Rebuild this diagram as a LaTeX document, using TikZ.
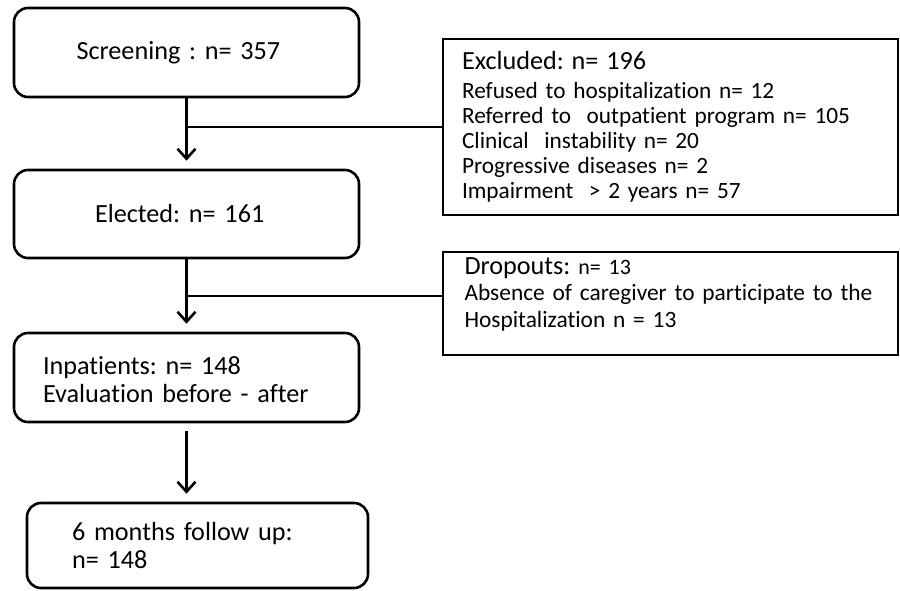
\documentclass[tikz,border=0pt]{standalone}
\usepackage{fontspec}
\setmainfont{Carlito}[Ligatures=NoCommon]
\usepackage{tikz}
\usetikzlibrary{positioning, arrows.meta}

\newcommand{\bigsize}{\fontsize{26.2}{28}\selectfont}
\newcommand{\smallsize}{\fontsize{23.3}{25}\selectfont}
\frenchspacing

\tikzset{
    stage/.style={draw, line width=2.6pt, rounded corners=14pt, align=left, font=\bigsize},
    reason/.style={draw, line width=2.6pt, align=left, font=\smallsize},
    flow/.style={line width=2.6pt, -{Straight Barb[length=10pt,width=18pt]}, shorten >=8pt},
    link/.style={line width=2.6pt},
}

\begin{document}
\begin{tikzpicture}[x=1pt, y=-1pt]
        \useasboundingbox (0,0) rectangle (900,590);

        % main flow
        \node[stage, text width=220pt, inner xsep=62.5pt, minimum height=89pt] (screen) at (186.5,52.5) {Screening : n= 357};
        \node[stage, text width=183pt, inner xsep=81pt, minimum height=88pt] (elect) at (186.5,214) {Elected: n= 161};
        \node[stage, text width=287pt, inner xsep=29pt, minimum height=89pt, text depth=24pt] (inpat) at (186.5,377.5) {
            Inpatients: n= 148\\
            Evaluation before - after
        };
        \node[stage, text width=251pt, inner xsep=45pt, minimum height=85pt] (follow) at (197.5,545.5) {
            6 months follow up:\\
            n= 148
        };

        % side boxes
        \node[reason, text width=417pt, inner xsep=19pt, minimum height=176pt] (excl) at (670.5,127) {
            {\bigsize Excluded: n= 196}\\[4pt]
            Refused to hospitalization n= 12\\
            Referred to\ \ outpatient program n= 105\\
            Clinical\ \ instability n= 20\\
            Progressive diseases n= 2\\
            Impairment\ \ > 2 years n= 57
        };
        \node[reason, font=\fontsize{23.4}{26.5}\selectfont, text width=412pt, inner xsep=21.5pt, minimum height=103pt, text depth=75pt] (drop) at (670.5,303.5) {
            {\bigsize Dropouts:} {\fontsize{22}{25}\selectfont n= 13}\\
            \mbox{Absence of caregiver to participate to the}\\
            Hospitalization n = 13
        };

        % connectors
        \draw[flow] (screen) -- (elect);
        \draw[link] (excl.west) -- (excl.west -| screen.south);
        \draw[flow] (elect) -- (inpat);
        \draw[link] ([yshift=7.5pt]drop.west) -- ([yshift=7.5pt]drop.west -| elect.south);
        \draw[flow, shorten <=8pt] (inpat.south) -- (inpat.south |- follow.north);

    \end{tikzpicture}
\end{document}
